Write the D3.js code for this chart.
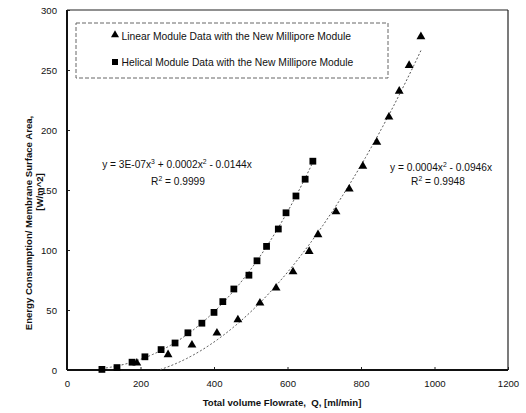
<!DOCTYPE html>
<html>
<head>
<meta charset="utf-8">
<script src="https://cdn.jsdelivr.net/npm/d3@7"></script>
<style>
  html, body { margin: 0; padding: 0; background: #fff; }
  svg { display: block; font-family: "Liberation Sans", Arial, sans-serif; }
</style>
</head>
<body>
<svg id="chart" width="526" height="413"></svg>
<script>
// Flowrate (ml/min) and energy per membrane area (W/m^2)
const linearQ = [190, 275, 340, 408, 465, 525, 569, 615, 659, 683, 732, 768, 805, 843, 876, 904, 931, 963];
const linearE = [5, 12, 20, 30, 41, 55, 67.5, 81, 98, 112, 131, 150, 169, 189, 210, 231.5, 253, 277];
const helicalQ = [95, 136, 177, 212, 256, 294, 329, 367, 400, 424, 454, 495, 517, 543, 575, 596, 623, 648, 669];
const helicalE = [0.5, 2, 6.5, 11, 17, 22.5, 31, 39, 48, 57, 67.5, 79, 91, 103, 117.5, 131, 145, 159, 174];

const xTicks = [0, 200, 400, 600, 800, 1000, 1200];
const yTicks = [0, 50, 100, 150, 200, 250, 300];

const legendLabels = [
  "Linear Module Data with the New Millipore Module",
  "Helical Module Data with the New Millipore Module"
];

const svg = d3.select("#chart");
const plotLeft = 67, plotRight = 508, plotTop = 10, plotBottom = 370;

const x = d3.scaleLinear().domain([0, 1200]).range([plotLeft, plotRight]);
const y = d3.scaleLinear().domain([0, 300]).range([plotBottom, plotTop]);

// Least-squares polynomial through the origin (powers given), fitted on x/1000
function fitThroughOrigin(xs, ys, powers) {
  const n = powers.length;
  const A = Array.from({length: n}, () => new Array(n + 1).fill(0));
  xs.forEach((xv, k) => {
    const t = xv / 1000;
    const f = powers.map(p => Math.pow(t, p));
    for (let i = 0; i < n; i++) {
      for (let j = 0; j < n; j++) A[i][j] += f[i] * f[j];
      A[i][n] += f[i] * ys[k];
    }
  });
  for (let i = 0; i < n; i++) {
    let piv = i;
    for (let r = i + 1; r < n; r++) if (Math.abs(A[r][i]) > Math.abs(A[piv][i])) piv = r;
    [A[i], A[piv]] = [A[piv], A[i]];
    for (let r = 0; r < n; r++) {
      if (r === i) continue;
      const m = A[r][i] / A[i][i];
      for (let c = i; c <= n; c++) A[r][c] -= m * A[i][c];
    }
  }
  const coef = A.map((row, i) => row[n] / row[i]);
  return xv => {
    const t = xv / 1000;
    return powers.reduce((s, p, i) => s + coef[i] * Math.pow(t, p), 0);
  };
}

const linearFit = fitThroughOrigin(linearQ, linearE, [2, 1]);
const helicalFit = fitThroughOrigin(helicalQ, helicalE, [3, 2, 1]);

// Clip marks to the plot area
svg.append("defs").append("clipPath").attr("id", "plotClip")
  .append("rect").attr("x", plotLeft).attr("y", plotTop)
  .attr("width", plotRight - plotLeft).attr("height", plotBottom - plotTop);

// Axes
const xAxis = d3.axisBottom(x).tickValues(xTicks).tickFormat(d3.format("d"))
  .tickSizeInner(-3).tickSizeOuter(0).tickPadding(10);
const yAxis = d3.axisLeft(y).tickValues(yTicks).tickFormat(d3.format("d"))
  .tickSizeInner(-3).tickSizeOuter(0).tickPadding(10);

const gx = svg.append("g").attr("transform", `translate(0,${plotBottom})`).call(xAxis);
const gy = svg.append("g").attr("transform", `translate(${plotLeft},0)`).call(yAxis);
[gx, gy].forEach(g => {
  g.select(".domain").remove();
  g.selectAll(".tick line").attr("stroke", "#222");
  g.selectAll(".tick text").attr("font-size", 9.6).attr("fill", "#111")
    .attr("font-family", "Liberation Sans, Arial, sans-serif");
});

// Plot frame
svg.append("line").attr("x1", plotLeft).attr("x2", plotRight).attr("y1", plotTop).attr("y2", plotTop)
  .attr("stroke", "#222").attr("stroke-width", 1.2);
svg.append("line").attr("x1", plotRight).attr("x2", plotRight).attr("y1", plotTop).attr("y2", plotBottom)
  .attr("stroke", "#222").attr("stroke-width", 1.2);
svg.append("line").attr("x1", plotLeft).attr("x2", plotRight).attr("y1", plotBottom).attr("y2", plotBottom)
  .attr("stroke", "#111").attr("stroke-width", 2);
svg.append("line").attr("x1", plotLeft).attr("x2", plotLeft).attr("y1", plotTop).attr("y2", plotBottom)
  .attr("stroke", "#111").attr("stroke-width", 2);

// Trendlines
const plot = svg.append("g").attr("clip-path", "url(#plotClip)");
function trend(fn, x0, x1) {
  const pts = d3.range(0, 201).map(i => {
    const xv = x0 + (x1 - x0) * i / 200;
    return [xv, fn(xv)];
  });
  plot.append("path")
    .attr("d", d3.line().x(d => x(d[0])).y(d => y(d[1]))(pts))
    .attr("fill", "none").attr("stroke", "#555").attr("stroke-width", 1)
    .attr("stroke-dasharray", "2,2");
}
trend(linearFit, d3.min(linearQ), d3.max(linearQ));
trend(helicalFit, d3.min(helicalQ), d3.max(helicalQ));

// Markers
const tri = d3.symbol().type(d3.symbolTriangle).size(34);
const sq = d3.symbol().type(d3.symbolSquare).size(46);
const legTri = d3.symbol().type(d3.symbolTriangle).size(28);
const legSq = d3.symbol().type(d3.symbolSquare).size(36);

svg.append("g").selectAll("path").data(helicalQ.map((q, i) => [q, helicalE[i]]))
  .join("path").attr("d", sq)
  .attr("transform", d => `translate(${x(d[0])},${y(d[1])})`).attr("fill", "#000");
svg.append("g").selectAll("path").data(linearQ.map((q, i) => [q, linearE[i]]))
  .join("path").attr("d", tri)
  .attr("transform", d => `translate(${x(d[0])},${y(d[1]) - 1})`).attr("fill", "#000");

// Legend
svg.append("rect").attr("x", 76).attr("y", 23).attr("width", 312).attr("height", 55)
  .attr("fill", "#fff").attr("stroke", "#666").attr("stroke-width", 1)
  .attr("stroke-dasharray", "4,2");
const legSyms = [legTri, legSq];
legendLabels.forEach((lab, i) => {
  const ly = 36 + i * 26;
  svg.append("path").attr("d", legSyms[i])
    .attr("transform", `translate(115,${ly - (i === 0 ? 1 : 0)})`).attr("fill", "#000");
  svg.append("text").attr("x", 121.5).attr("y", ly + 3.5)
    .attr("font-size", 10.3).attr("fill", "#111").text(lab);
});

// Trendline equations: plain strings and {exp: "n"} superscripts
function eq(cx, cy, parts) {
  const t = svg.append("text").attr("x", cx).attr("y", cy).attr("text-anchor", "middle")
    .attr("font-size", 10.2).attr("fill", "#111");
  let lift = 0;
  parts.forEach(p => {
    if (typeof p === "object") {
      t.append("tspan").attr("font-size", 6.8).attr("dy", -4).text(p.exp);
      lift = 4;
    } else {
      t.append("tspan").attr("dy", lift).text(p);
      lift = 0;
    }
  });
}
eq(177, 168, ["y = 3E-07x", {exp: "3"}, " + 0.0002x", {exp: "2"}, " - 0.0144x"]);
eq(178, 185, ["R", {exp: "2"}, " = 0.9999"]);
eq(441, 171, ["y = 0.0004x", {exp: "2"}, " - 0.0946x"]);
eq(438, 185, ["R", {exp: "2"}, " = 0.9948"]);

// Axis titles
svg.append("text").attr("x", 282).attr("y", 406).attr("text-anchor", "middle")
  .attr("font-size", 9.6).attr("font-weight", "bold").attr("fill", "#111")
  .attr("xml:space", "preserve")
  .text("Total volume Flowrate,  Q, [ml/min]");

svg.append("text").attr("transform", "translate(32,223) rotate(-90)")
  .attr("text-anchor", "middle").attr("font-size", 9.6).attr("font-weight", "bold")
  .attr("fill", "#111").text("Energy Consumption/ Membrane Surface Area,");
svg.append("text").attr("transform", "translate(43,192) rotate(-90)")
  .attr("text-anchor", "middle").attr("font-size", 9.6).attr("font-weight", "bold")
  .attr("fill", "#111").text("[W/m^2]");
</script>
</body>
</html>
